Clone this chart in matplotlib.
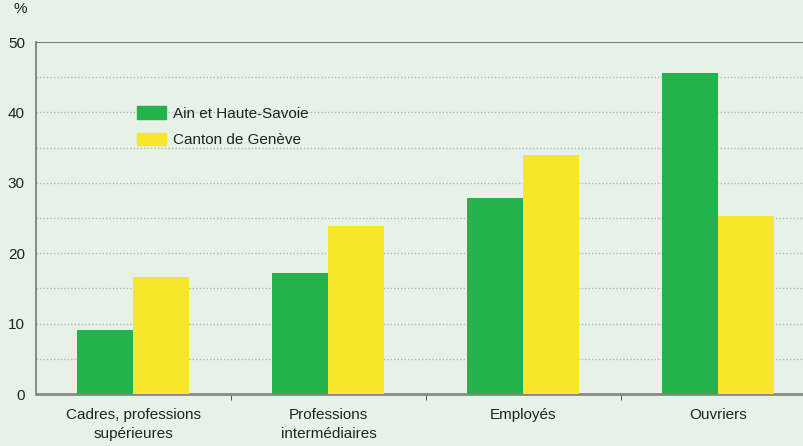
import numpy as np
import matplotlib.pyplot as plt
from matplotlib.patches import Patch

plt.rcParams["font.family"] = ["Liberation Sans", "DejaVu Sans"]

categories = ["Cadres, professions\nsupérieures", "Professions\nintermédiaires",
              "Employés", "Ouvriers"]
ain_haute_savoie = [9.1, 17.2, 27.8, 45.6]
canton_geneve = [16.6, 23.9, 33.9, 25.3]
series_names = ["Ain et Haute-Savoie", "Canton de Genève"]

bg = "#e7f2e7"
green = "#24b24c"
yellow = "#f7e72a"
text_col = "#222222"

fig = plt.figure(figsize=(8.04, 4.46), dpi=100, facecolor=bg)
ax = fig.add_axes([36 / 804, 52 / 446, 1 - 36 / 804, 352 / 446], facecolor=bg)

x = np.arange(len(categories))
w = 0.2872
ax.bar(x - w / 2, ain_haute_savoie, w, color=green, zorder=3)
ax.bar(x + w / 2, canton_geneve, w, color=yellow, zorder=3)

ax.set_xlim(-0.5, 3.44)
ax.set_ylim(0, 50)
ax.set_yticks(np.arange(0, 51, 10))
for v in np.arange(5, 50, 5):
    ax.axhline(v, color="#b0b8b0", lw=1, ls=(0, (1, 1.5)), zorder=1)
ax.axhline(50, color="#777777", lw=1.5, zorder=2)

ax.set_xticks(x)
ax.set_xticklabels(categories, fontsize=11, color=text_col, linespacing=1.45)
ax.set_xticks(x[:-1] + 0.5, minor=True)
ax.tick_params(axis="x", which="major", length=0, pad=10)
ax.tick_params(axis="x", which="minor", length=4, direction="out", color="#333333")
ax.tick_params(axis="y", which="both", length=0, pad=8, labelsize=11, labelcolor=text_col)

for s in ["top", "right"]:
    ax.spines[s].set_visible(False)
ax.spines["left"].set_color("#777777")
ax.spines["left"].set_linewidth(1.2)
ax.spines["bottom"].set_color("#888888")
ax.spines["bottom"].set_linewidth(2)

fig.text(14 / 804, 1 - 9 / 446, "%", fontsize=11, color=text_col, va="center")

handles = [Patch(color=green), Patch(color=yellow)]
ax.legend(handles, series_names, loc="upper left", bbox_to_anchor=(0.113, 0.856),
          frameon=False, fontsize=11, handlelength=1.96, handleheight=0.9,
          handletextpad=0.4, labelspacing=0.75, labelcolor=text_col)

fig.savefig("out.png", dpi=100, facecolor=bg)
